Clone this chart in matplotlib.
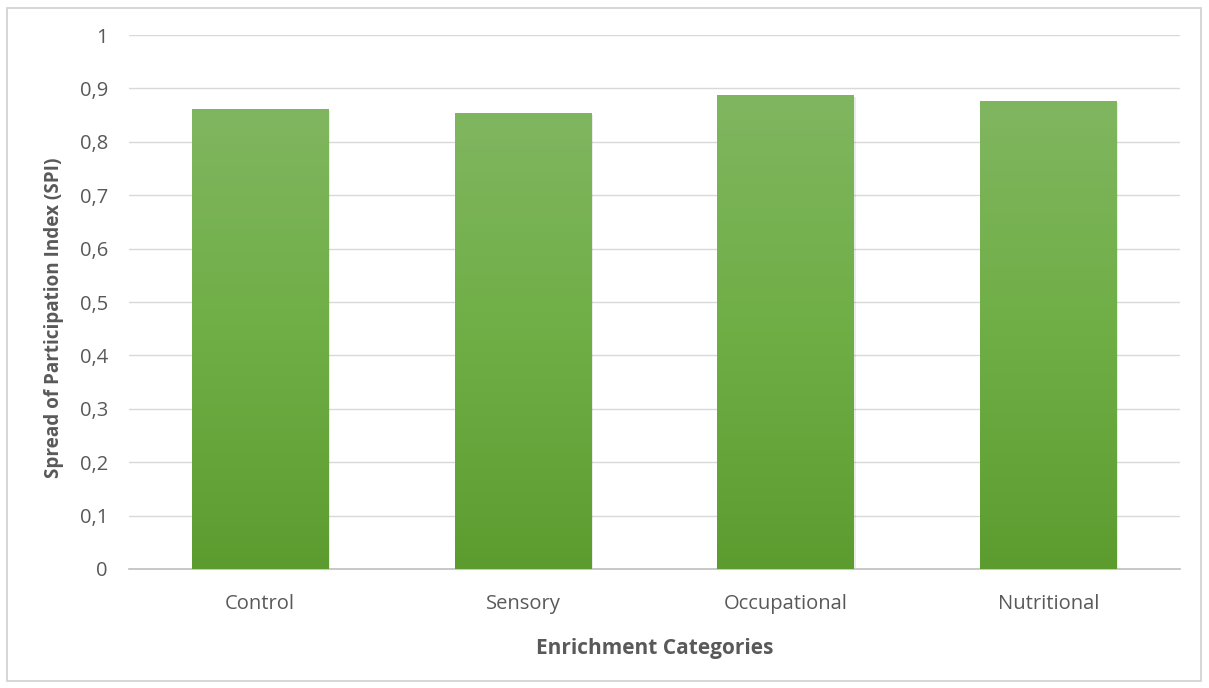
import numpy as np
import matplotlib
matplotlib.use('Agg')
import matplotlib.pyplot as plt
from matplotlib.colors import LinearSegmentedColormap
from matplotlib.patches import Rectangle

plt.rcParams['font.family'] = ['Open Sans', 'DejaVu Sans']

categories = ['Control', 'Sensory', 'Occupational', 'Nutritional']
spi = [0.862, 0.855, 0.888, 0.876]
yticks = [0, 0.1, 0.2, 0.3, 0.4, 0.5, 0.6, 0.7, 0.8, 0.9, 1]

text_gray = '#595959'
grid_gray = '#d9d9d9'

fig = plt.figure(figsize=(12.09, 6.88), dpi=100)
ax = fig.add_axes([0.1065, 0.173, 0.8695, 0.776])

# border round the whole chart
fig.patches.append(Rectangle((0.006, 0.01), 0.987, 0.978, transform=fig.transFigure,
                             fill=False, edgecolor='#d0d0d0', linewidth=1.2))

x = np.arange(len(categories))
bars = ax.bar(x, spi, width=0.52, color='none', zorder=3)

# vertical gradient, lighter at top
cmap = LinearSegmentedColormap.from_list('grn', ['#5c9c2f', '#6fae45', '#80b660'])
grad = np.linspace(0, 1, 256).reshape(-1, 1)
for b in bars:
    x0, w, h = b.get_x(), b.get_width(), b.get_height()
    im = ax.imshow(grad, cmap=cmap, origin='lower', aspect='auto',
                   extent=[x0, x0 + w, 0, h], zorder=3)
    im.set_clip_path(b)
    # soft shadow
    ax.add_patch(Rectangle((x0 + 0.006, -0.004), w, h, facecolor='#000000',
                           alpha=0.08, edgecolor='none', zorder=2))

ax.set_xlim(-0.5, len(categories) - 0.5)
ax.set_ylim(0, 1)
ax.set_yticks(yticks)
ax.set_yticklabels([f'{v:g}'.replace('.', ',') for v in yticks])
ax.set_xticks(x)
ax.set_xticklabels(categories)

ax.grid(axis='y', color=grid_gray, linewidth=1, zorder=0)
ax.set_axisbelow(True)
for s in ['top', 'right', 'left']:
    ax.spines[s].set_visible(False)
ax.spines['bottom'].set_color('#bfbfbf')
ax.spines['bottom'].set_linewidth(1.2)
ax.tick_params(axis='both', length=0, colors=text_gray, labelsize=14.5)
ax.tick_params(axis='y', pad=15)
ax.tick_params(axis='x', pad=18)

ax.set_xlabel('Enrichment Categories', fontsize=15, fontweight='bold',
              color=text_gray, labelpad=17)
ax.set_ylabel('Spread of Participation Index (SPI)', fontsize=13.6, fontweight='bold',
              color=text_gray)
ax.yaxis.set_label_coords(-0.062, 0.47)

fig.savefig('out.png', dpi=100, facecolor='white')
